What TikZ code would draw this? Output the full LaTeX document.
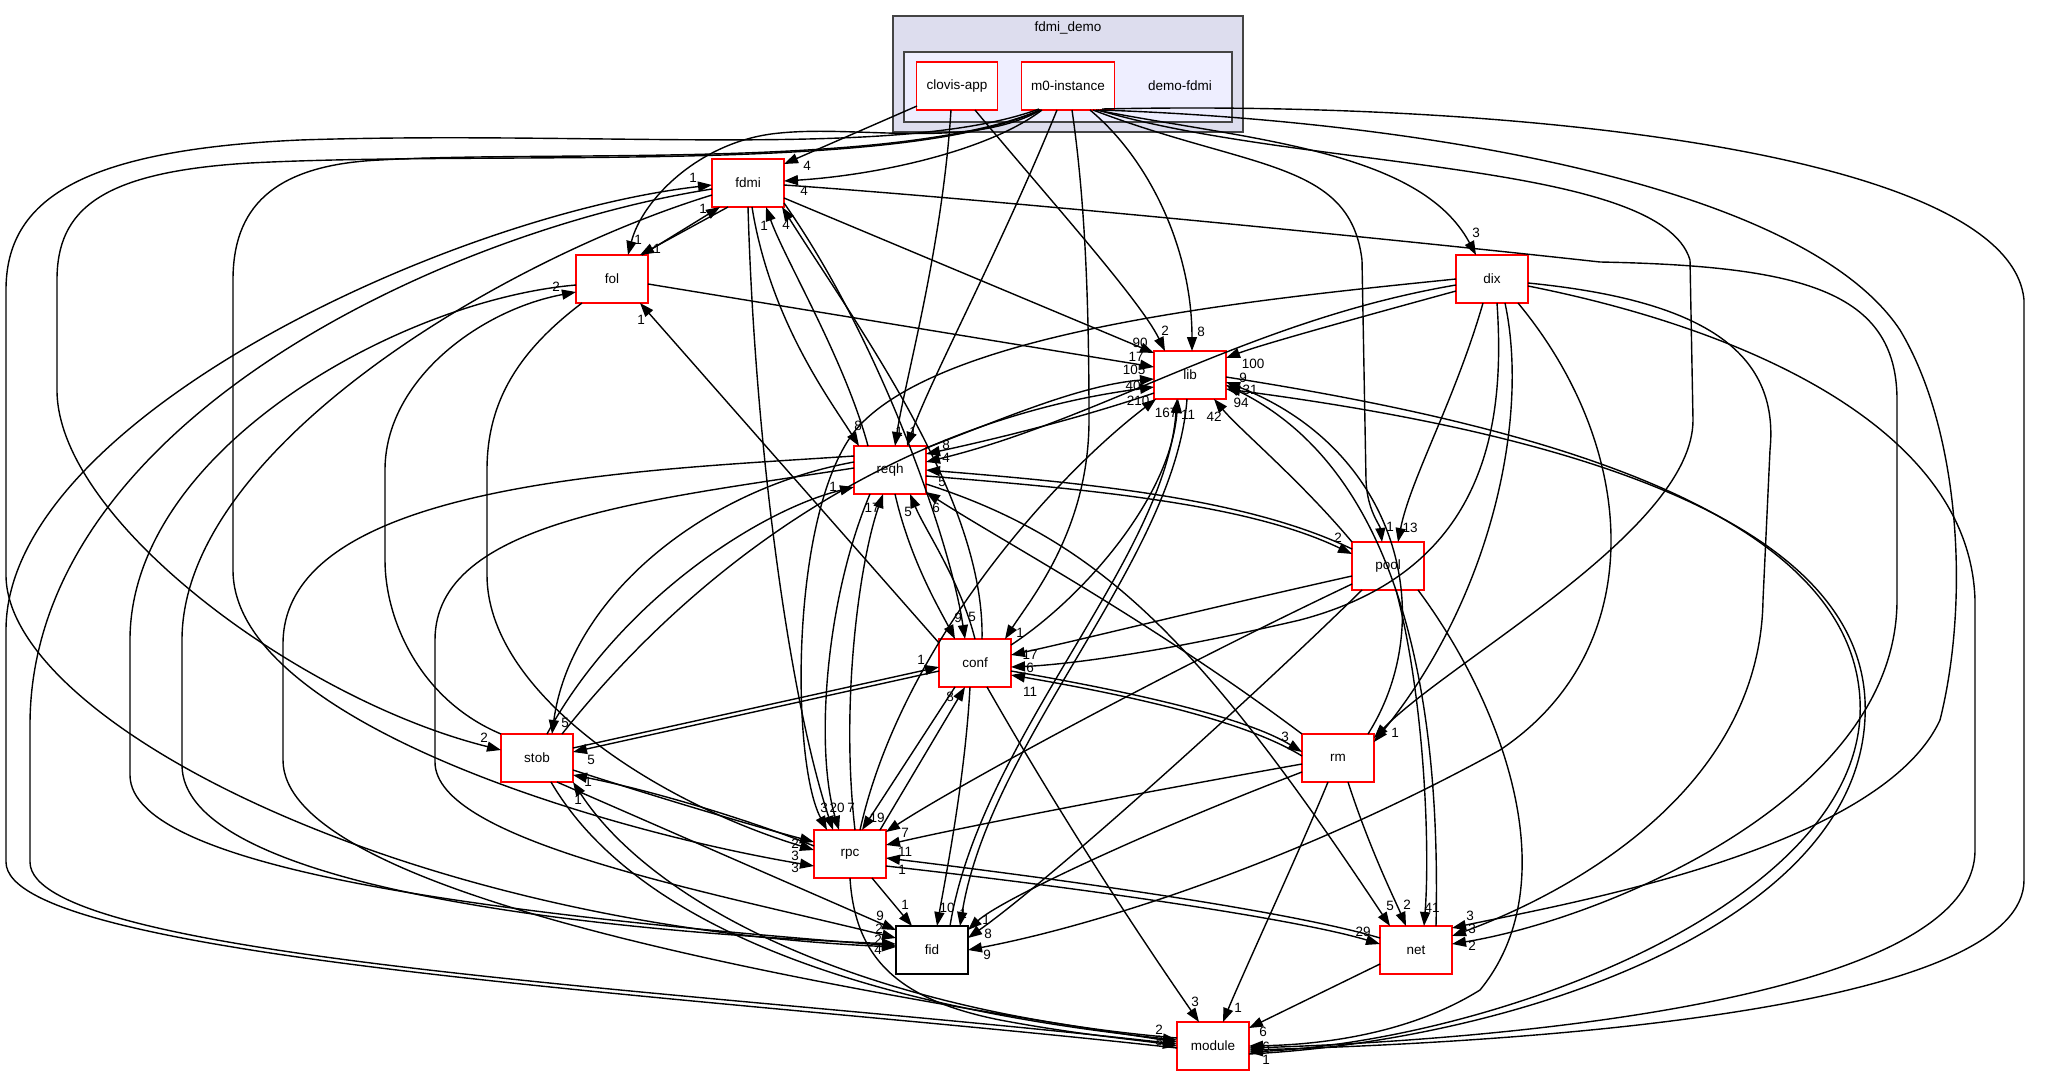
\documentclass[tikz,border=0pt]{standalone}
\usepackage{fontspec}
\setmainfont{Liberation Sans}
\usetikzlibrary{arrows.meta,calc}
\newcommand\dfont{\fontsize{13.5}{15}\selectfont}
\definecolor{cfillA}{HTML}{DDDDEE}
\definecolor{cfillB}{HTML}{EEEEFF}
\definecolor{cgray}{HTML}{444444}
\tikzset{
  dep/.style={draw=black, line width=1.4pt, -{Triangle[length=14pt,width=10pt]}},
  lbl/.style={font=\dfont, inner sep=0pt},
  dirnode/.style={draw=red, line width=1.4pt, fill=white, minimum width=72pt, minimum height=48pt, font=\dfont, inner sep=0pt},
  clus/.style={draw=cgray, line width=1.6pt},
}
\begin{document}
\begin{tikzpicture}[x=1pt,y=-1pt]
\path[use as bounding box, fill=white] (0,0) rectangle (2054,1076);
% clusters
\draw[clus, fill=cfillA] (893,16) rectangle (1243,132);
\node[lbl] (tA) at (1068,28) {fdmi\_demo};
\draw[clus, fill=cfillB] (904,52) rectangle (1232,122);
\node[lbl] (tB) at (1180,86) {demo-fdmi};
% nodes
\node[dirnode, minimum width=81pt] (clovis) at (957,86) {clovis-app};
\node[dirnode, minimum width=93pt] (m0) at (1068,86) {m0-instance};
\node[dirnode] (fdmi) at (748,183) {fdmi};
\node[dirnode] (fol) at (612,279) {fol};
\node[dirnode] (lib) at (1190,375) {lib};
\node[dirnode] (dix) at (1492,279) {dix};
\node[dirnode] (reqh) at (890,470) {reqh};
\node[dirnode] (pool) at (1388,566) {pool};
\node[dirnode] (conf) at (975,663) {conf};
\node[dirnode] (rm) at (1338,758) {rm};
\node[dirnode] (stob) at (537,758) {stob};
\node[dirnode] (rpc) at (850,854) {rpc};
\node[dirnode, draw=black] (fid) at (932,950) {fid};
\node[dirnode] (net) at (1416,950) {net};
\node[dirnode] (module) at (1213,1046) {module};

% clovis-app
\draw[dep] ($(clovis)+(-40,20)$) -- ($(fdmi)+(36,-19)$);
\draw[dep] ($(clovis)+(-6,24)$) .. controls (942,250) and (905,380) .. ($(reqh)+(5,-24)$);
\draw[dep] ($(clovis)+(18,24)$) .. controls (1050,200) and (1140,300) .. ($(lib)+(-25,-24)$);
% m0-instance, left side
\draw[dep] ($(m0)+(-26,24)$) .. controls (990,150) and (880,175) .. ($(fdmi)+(36,-2)$);
\draw[dep] ($(m0)+(-27,24)$) .. controls (970,150) and (860,125) .. (780,133) .. controls (700,140) and (642,200) .. ($(fol)+(16,-24)$);
\draw[dep] ($(m0)+(-28,24)$) .. controls (900,175) and (500,150) .. (250,163) .. controls (100,172) and (57,210) .. (57,280) -- (57,390) .. controls (57,520) and (300,700) .. ($(stob)+(-36,-8)$);
\draw[dep] ($(m0)+(-28,24)$) .. controls (900,170) and (550,150) .. (380,160) .. controls (270,165) and (233,210) .. (233,280) -- (233,570) .. controls (233,720) and (600,830) .. ($(rpc)+(-36,12)$);
\draw[dep] ($(m0)+(-29,23)$) .. controls (900,160) and (600,130) .. (300,140) .. controls (80,150) and (6,200) .. (6,290) -- (6,575) .. controls (6,720) and (400,925) .. ($(fid)+(-36,-3)$);
% m0-instance, right side
\draw[dep] ($(m0)+(-11,24)$) .. controls (1000,250) and (930,380) .. ($(reqh)+(17,-24)$);
\draw[dep] ($(m0)+(4,24)$) .. controls (1085,200) and (1089,300) .. (1089,420) .. controls (1089,530) and (1030,600) .. ($(conf)+(30,-24)$);
\draw[dep] ($(m0)+(22,24)$) .. controls (1150,160) and (1192,250) .. ($(lib)+(2,-24)$);
\draw[dep] ($(m0)+(25,24)$) .. controls (1250,170) and (1350,160) .. (1362,260) -- (1366,480) .. controls (1367,510) and (1380,525) .. ($(pool)+(-6,-24)$);
\draw[dep] ($(m0)+(28,24)$) .. controls (1250,140) and (1420,150) .. ($(dix)+(-16,-24)$);
\draw[dep] ($(m0)+(30,24)$) .. controls (1300,170) and (1660,160) .. (1690,260) -- (1693,420) .. controls (1693,530) and (1450,660) .. ($(rm)+(36,-20)$);
\draw[dep] ($(m0)+(32,24)$) .. controls (1400,120) and (1800,180) .. (1900,330) .. controls (1960,430) and (1970,600) .. (1940,720) .. controls (1880,850) and (1560,905) .. ($(net)+(36,-22)$);
\draw[dep] ($(m0)+(34,23)$) .. controls (1500,100) and (2010,150) .. (2024,300) -- (2024,880) .. controls (2024,1000) and (1600,1040) .. ($(module)+(36,4)$);
% fdmi
\draw[dep] ($(fdmi)+(-20,24)$) -- ($(fol)+(28,-24)$);
\draw[dep] ($(fdmi)+(36,15)$) -- ($(lib)+(-36,-22)$);
\draw[dep] ($(fdmi)+(4,24)$) .. controls (770,320) and (830,400) .. ($(reqh)+(-31,-24)$);
\draw[dep] ($(fdmi)+(0,24)$) .. controls (755,450) and (790,700) .. ($(rpc)+(-17,-24)$);
\draw[dep] ($(fdmi)+(36,2)$) .. controls (1000,200) and (1400,240) .. (1600,262) .. controls (1800,266) and (1897,290) .. (1897,400) -- (1897,600) .. controls (1897,800) and (1600,920) .. ($(net)+(36,-6)$);
\draw[dep] ($(fdmi)+(-36,12)$) .. controls (500,260) and (182,450) .. (182,640) -- (182,765) .. controls (182,880) and (550,930) .. ($(fid)+(-36,-6)$);
\draw[dep] ($(fdmi)+(-36,6)$) .. controls (450,230) and (30,420) .. (30,725) -- (30,862) .. controls (30,960) and (700,990) .. ($(module)+(-36,-2)$);
\draw[dep] ($(fdmi)+(36,20)$) .. controls (880,340) and (950,540) .. ($(conf)+(-10,-24)$);
% fol
\draw[dep] ($(fol)+(30,-24)$) -- ($(fdmi)+(-28,24)$);
\draw[dep] ($(fol)+(36,5)$) -- ($(lib)+(-36,-8)$);
\draw[dep] ($(fol)+(-30,24)$) .. controls (520,350) and (487,400) .. (487,470) -- (487,575) .. controls (487,690) and (650,800) .. ($(rpc)+(-36,-4)$);
\draw[dep] ($(fol)+(-36,6)$) .. controls (400,300) and (130,450) .. (130,640) -- (130,775) .. controls (130,870) and (500,915) .. ($(fid)+(-36,-4)$);
% stob
\draw[dep] ($(stob)+(-36,-24)$) .. controls (420,700) and (385,620) .. (385,560) -- (385,470) .. controls (385,380) and (480,310) .. ($(fol)+(-36,13)$);
\draw[dep] ($(stob)+(10,-24)$) .. controls (620,600) and (760,510) .. ($(reqh)+(-36,17)$);
\draw[dep] ($(stob)+(25,-24)$) .. controls (700,560) and (900,420) .. ($(lib)+(-36,12)$);
\draw[dep] ($(stob)+(36,-10)$) -- ($(conf)+(-36,4)$);
\draw[dep] ($(stob)+(36,12)$) .. controls (650,795) and (750,825) .. ($(rpc)+(-36,-12)$);
\draw[dep] ($(stob)+(20,24)$) -- ($(fid)+(-36,-20)$);
\draw[dep] ($(stob)+(14,24)$) .. controls (620,900) and (800,1000) .. ($(module)+(-36,-6)$);
% rpc
\draw[dep] ($(rpc)+(-36,-8)$) .. controls (750,820) and (650,790) .. ($(stob)+(36,17)$);
\draw[dep] ($(rpc)+(5,-24)$) .. controls (840,700) and (860,560) .. ($(reqh)+(-7,24)$);
\draw[dep] ($(rpc)+(10,-24)$) .. controls (900,650) and (1050,480) .. ($(lib)+(-34,24)$);
\draw[dep] ($(rpc)+(30,-24)$) -- ($(conf)+(-10,24)$);
\draw[dep] ($(rpc)+(22,24)$) -- ($(fid)+(-20,-24)$);
\draw[dep] ($(rpc)+(36,12)$) .. controls (1100,890) and (1300,920) .. ($(net)+(-36,-6)$);
\draw[dep] ($(rpc)+(0,24)$) .. controls (855,960) and (900,1000) .. (1000,1020) .. controls (1080,1035) and (1140,1040) .. ($(module)+(-36,0)$);
% reqh
\draw[dep] ($(reqh)+(-22,-24)$) .. controls (845,360) and (785,260) .. ($(fdmi)+(18,24)$);
\draw[dep] ($(reqh)+(36,-22)$) .. controls (1000,420) and (1080,385) .. ($(lib)+(-36,4)$);
\draw[dep] ($(reqh)+(-36,-8)$) .. controls (700,490) and (570,600) .. ($(stob)+(15,-24)$);
\draw[dep] ($(reqh)+(5,24)$) .. controls (910,560) and (940,610) .. ($(conf)+(-20,-24)$);
\draw[dep] ($(reqh)+(-20,24)$) .. controls (825,600) and (815,750) .. ($(rpc)+(-11,-24)$);
\draw[dep] ($(reqh)+(36,6)$) .. controls (1100,490) and (1250,505) .. ($(pool)+(-36,-12)$);
\draw[dep] ($(reqh)+(36,14)$) .. controls (1100,540) and (1200,640) .. ($(net)+(-26,-24)$);
\draw[dep] ($(reqh)+(-36,-2)$) .. controls (650,500) and (435,520) .. (435,640) -- (435,762) .. controls (435,840) and (700,890) .. ($(fid)+(-36,-12)$);
\draw[dep] ($(reqh)+(-36,-14)$) .. controls (650,470) and (283,480) .. (283,644) -- (283,760) .. controls (283,880) and (700,970) .. ($(module)+(-36,-4)$);
% conf
\draw[dep] ($(conf)+(7,-24)$) .. controls (985,500) and (860,330) .. ($(fdmi)+(34,24)$);
\draw[dep] ($(conf)+(-36,-20)$) -- ($(fol)+(28,24)$);
\draw[dep] ($(conf)+(0,-24)$) .. controls (960,580) and (925,530) .. ($(reqh)+(20,24)$);
\draw[dep] ($(conf)+(36,-18)$) .. controls (1080,600) and (1170,500) .. ($(lib)+(-12,24)$);
\draw[dep] ($(conf)+(-36,8)$) -- ($(stob)+(36,-6)$);
\draw[dep] ($(conf)+(-20,24)$) -- ($(rpc)+(12,-24)$);
\draw[dep] ($(conf)+(36,8)$) .. controls (1150,695) and (1250,720) .. ($(rm)+(-36,-6)$);
\draw[dep] ($(conf)+(-5,24)$) .. controls (965,780) and (945,880) .. ($(fid)+(5,-24)$);
\draw[dep] ($(conf)+(12,24)$) .. controls (1080,850) and (1170,980) .. ($(module)+(-14,-24)$);
% pool
\draw[dep] ($(pool)+(-36,-24)$) .. controls (1300,480) and (1240,430) .. ($(lib)+(24,24)$);
\draw[dep] ($(pool)+(-36,-17)$) .. controls (1250,500) and (1100,484) .. ($(reqh)+(36,0)$);
\draw[dep] ($(pool)+(-36,10)$) .. controls (1200,610) and (1080,640) .. ($(conf)+(36,-8)$);
\draw[dep] ($(pool)+(-36,18)$) .. controls (1150,680) and (950,790) .. ($(rpc)+(36,-22)$);
\draw[dep] ($(pool)+(-26,24)$) .. controls (1250,700) and (1050,880) .. ($(fid)+(36,-12)$);
\draw[dep] ($(pool)+(8,24)$) .. controls (1425,700) and (1430,850) .. ($(net)+(8,-24)$);
\draw[dep] ($(pool)+(30,24)$) .. controls (1500,700) and (1570,880) .. (1480,990) .. controls (1400,1040) and (1300,1045) .. ($(module)+(36,0)$);
% dix
\draw[dep] ($(dix)+(-36,12)$) .. controls (1350,320) and (1260,345) .. ($(lib)+(36,-17)$);
\draw[dep] ($(dix)+(-36,6)$) .. controls (1250,320) and (1100,420) .. ($(reqh)+(36,-8)$);
\draw[dep] ($(dix)+(-36,0)$) .. controls (1250,300) and (950,330) .. (860,425) .. controls (790,500) and (790,760) .. ($(rpc)+(-23,-24)$);
\draw[dep] ($(dix)+(-9,24)$) .. controls (1455,400) and (1410,480) .. ($(pool)+(10,-24)$);
\draw[dep] ($(dix)+(5,24)$) .. controls (1505,420) and (1490,570) .. (1300,620) .. controls (1150,655) and (1060,665) .. ($(conf)+(36,4)$);
\draw[dep] ($(dix)+(13,24)$) .. controls (1530,420) and (1490,600) .. ($(rm)+(36,-16)$);
\draw[dep] ($(dix)+(26,24)$) .. controls (1640,450) and (1650,650) .. (1500,750) .. controls (1300,860) and (1100,925) .. ($(fid)+(36,0)$);
\draw[dep] ($(dix)+(36,4)$) .. controls (1700,300) and (1780,350) .. (1770,450) -- (1763,600) .. controls (1760,800) and (1550,900) .. ($(net)+(36,-14)$);
\draw[dep] ($(dix)+(36,7)$) .. controls (1750,330) and (1970,430) .. (1975,600) -- (1975,850) .. controls (1975,1000) and (1500,1040) .. ($(module)+(36,2)$);
% rm
\draw[dep] ($(rm)+(30,-24)$) .. controls (1440,620) and (1400,450) .. ($(lib)+(36,7)$);
\draw[dep] ($(rm)+(-36,-24)$) .. controls (1150,620) and (1000,540) .. ($(reqh)+(36,22)$);
\draw[dep] ($(rm)+(-36,-2)$) .. controls (1250,724) and (1150,699) .. ($(conf)+(36,12)$);
\draw[dep] ($(rm)+(-36,6)$) .. controls (1100,800) and (950,830) .. ($(rpc)+(36,-9)$);
\draw[dep] ($(rm)+(-36,14)$) .. controls (1150,830) and (1000,900) .. ($(fid)+(36,-20)$);
\draw[dep] ($(rm)+(10,24)$) .. controls (1370,850) and (1395,900) .. ($(net)+(-10,-24)$);
\draw[dep] ($(rm)+(-10,24)$) .. controls (1300,850) and (1240,980) .. ($(module)+(10,-24)$);
% net
\draw[dep] ($(net)+(20,-24)$) .. controls (1440,750) and (1420,480) .. ($(lib)+(36,10)$);
\draw[dep] ($(net)+(-36,-12)$) .. controls (1300,914) and (1100,884) .. ($(rpc)+(36,4)$);
\draw[dep] ($(net)+(-36,14)$) -- ($(module)+(36,-18)$);
% lib, fid, module
\draw[dep] ($(lib)+(-36,18)$) .. controls (1080,418) and (1000,438) .. ($(reqh)+(36,-16)$);
\draw[dep] ($(lib)+(-3,24)$) .. controls (1175,560) and (990,740) .. ($(fid)+(28,-24)$);
\draw[dep] ($(lib)+(36,2)$) .. controls (1500,420) and (1850,500) .. (1860,700) .. controls (1870,900) and (1500,1040) .. ($(module)+(36,6)$);
\draw[dep] ($(fid)+(18,-24)$) .. controls (980,740) and (1165,560) .. ($(lib)+(-13,24)$);
\draw[dep] ($(module)+(36,8)$) .. controls (1520,1040) and (1875,920) .. (1865,700) .. controls (1855,500) and (1500,425) .. ($(lib)+(36,14)$);
\draw[dep] ($(module)+(-36,2)$) .. controls (700,995) and (6,960) .. (6,862) -- (6,630) .. controls (6,420) and (450,215) .. ($(fdmi)+(-36,2)$);
\draw[dep] ($(module)+(-36,-8)$) .. controls (850,1010) and (650,900) .. ($(stob)+(36,24)$);

% labels
\node[lbl] (a1) at (807,166) {4};
\node[lbl] (a2) at (804,191) {4};
\node[lbl] (a3) at (693,178) {1};
\node[lbl] (a4) at (703,209) {1};
\node[lbl] (a5) at (764,226) {1};
\node[lbl] (a6) at (786,225) {4};
\node[lbl] (b1) at (638,240) {1};
\node[lbl] (b2) at (657,249) {1};
\node[lbl] (b3) at (556,287) {2};
\node[lbl] (b4) at (641,320) {1};
\node[lbl] (c1) at (1165,331) {2};
\node[lbl] (c2) at (1201,332) {8};
\node[lbl] (c3) at (1140,343) {90};
\node[lbl] (c4) at (1136,357) {17};
\node[lbl] (c5) at (1134,370) {105};
\node[lbl] (c6) at (1133,386) {40};
\node[lbl] (c7) at (1138,401) {210};
\node[lbl] (c8) at (1166,413) {167};
\node[lbl] (c9) at (1188,415) {11};
\node[lbl] (c10) at (1214,417) {42};
\node[lbl] (c11) at (1253,364) {100};
\node[lbl] (c12) at (1243,378) {9};
\node[lbl] (c13) at (1250,390) {31};
\node[lbl] (c14) at (1241,403) {94};
\node[lbl] (d1) at (1476,233) {3};
\node[lbl] (e1) at (858,426) {8};
\node[lbl] (e2) at (899,432) {1};
\node[lbl] (e3) at (913,432) {1};
\node[lbl] (e4) at (946,445) {8};
\node[lbl] (e5) at (946,458) {4};
\node[lbl] (e6) at (942,482) {5};
\node[lbl] (e7) at (833,487) {1};
\node[lbl] (e8) at (872,508) {17};
\node[lbl] (e9) at (908,512) {5};
\node[lbl] (e10) at (936,508) {6};
\node[lbl] (f1) at (1390,527) {1};
\node[lbl] (f2) at (1410,528) {13};
\node[lbl] (f3) at (1338,538) {2};
\node[lbl] (g1) at (958,618) {9};
\node[lbl] (g2) at (972,617) {5};
\node[lbl] (g3) at (1020,633) {1};
\node[lbl] (g4) at (1030,655) {17};
\node[lbl] (g5) at (1030,668) {6};
\node[lbl] (g6) at (1030,692) {11};
\node[lbl] (g7) at (921,660) {1};
\node[lbl] (g8) at (950,697) {8};
\node[lbl] (h1) at (1285,737) {3};
\node[lbl] (h2) at (1395,733) {1};
\node[lbl] (i1) at (484,738) {2};
\node[lbl] (i2) at (565,723) {5};
\node[lbl] (i3) at (591,760) {5};
\node[lbl] (i4) at (588,782) {1};
\node[lbl] (i5) at (578,800) {1};
\node[lbl] (j1) at (824,808) {3};
\node[lbl] (j2) at (837,808) {20};
\node[lbl] (j3) at (851,808) {7};
\node[lbl] (j4) at (877,818) {19};
\node[lbl] (j5) at (795,844) {2};
\node[lbl] (j6) at (795,856) {3};
\node[lbl] (j7) at (795,868) {3};
\node[lbl] (j8) at (905,833) {7};
\node[lbl] (j9) at (905,852) {11};
\node[lbl] (j10) at (902,870) {1};
\node[lbl] (k1) at (905,905) {1};
\node[lbl] (k2) at (947,908) {10};
\node[lbl] (k3) at (963,914) {1};
\node[lbl] (k4) at (986,920) {1};
\node[lbl] (k5) at (988,934) {8};
\node[lbl] (k6) at (987,955) {9};
\node[lbl] (k7) at (880,916) {9};
\node[lbl] (k8) at (879,929) {2};
\node[lbl] (k9) at (878,940) {2};
\node[lbl] (k10) at (878,950) {4};
\node[lbl] (m1) at (1390,906) {5};
\node[lbl] (m2) at (1407,905) {2};
\node[lbl] (m3) at (1432,908) {41};
\node[lbl] (m4) at (1470,916) {3};
\node[lbl] (m5) at (1472,929) {3};
\node[lbl] (m6) at (1472,946) {2};
\node[lbl] (m7) at (1363,932) {29};
\node[lbl] (n1) at (1195,1002) {3};
\node[lbl] (n2) at (1238,1008) {1};
\node[lbl] (n3) at (1263,1032) {6};
\node[lbl] (n4) at (1159,1030) {2};
\node[lbl] (n5) at (1159,1041) {8};
\node[lbl] (n6) at (1266,1047) {6};
\node[lbl] (n7) at (1266,1060) {1};
\end{tikzpicture}
\end{document}
